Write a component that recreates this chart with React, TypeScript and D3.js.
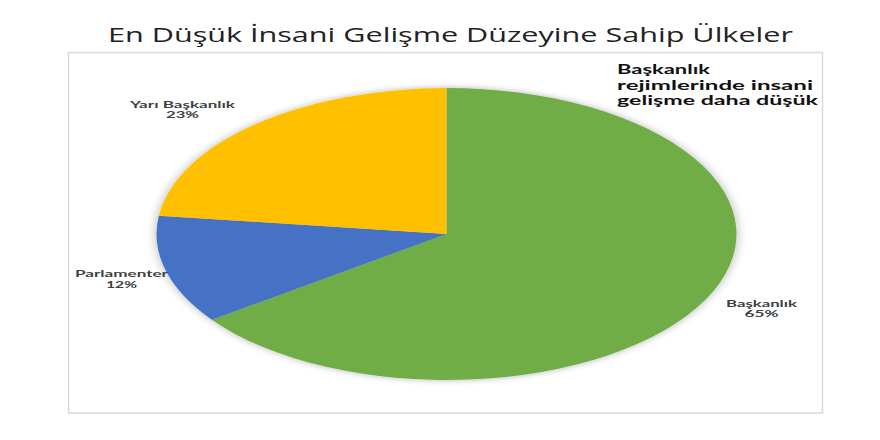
import React from "react";
import * as d3 from "d3";

const categories = ["Başkanlık", "Parlamenter", "Yarı Başkanlık"];
const values = [65, 12, 23];
const percentLabels = ["65%", "12%", "23%"];
const colors = ["#70AD47", "#4472C4", "#FFC000"];
const titleText = "En Düşük İnsani Gelişme Düzeyine Sahip Ülkeler";
const noteLines = ["Başkanlık", "rejimlerinde insani", "gelişme daha düşük"];

const W = 880;
const H = 440;
const cx = 446.5;
const cy = 234;
const rx = 290;
const ry = 146;

// label anchors: [centre x, baseline of first line]
const labelPos: [number, number][] = [
  [761.5, 306.7],
  [121.5, 277],
  [182.5, 107.5],
];
const nameWidths = [71, 93, 105];
const pctWidths = [34, 31, 33];
const noteWidths = [93, 196, 201];

export default function App() {
  const pie = d3
    .pie<number>()
    .sort(null)
    .startAngle(0)
    .endAngle(2 * Math.PI)(values);
  const arc = d3.arc<d3.PieArcDatum<number>>().innerRadius(0).outerRadius(ry);

  return (
    <svg
      width={W}
      height={H}
      style={{ position: "absolute", left: 0, top: 0, background: "#fff" }}
      fontFamily="'Open Sans', 'DejaVu Sans', sans-serif"
    >
      <defs>
        <filter id="sh" x="-10%" y="-10%" width="120%" height="120%">
          <feGaussianBlur in="SourceAlpha" stdDeviation="3" />
          <feComponentTransfer>
            <feFuncA type="linear" slope="0.3" />
          </feComponentTransfer>
          <feMerge>
            <feMergeNode />
            <feMergeNode in="SourceGraphic" />
          </feMerge>
        </filter>
      </defs>
      <text
        x={450.5}
        y={42}
        textAnchor="middle"
        fontSize={20}
        fill="#222"
        textLength={685}
        lengthAdjust="spacingAndGlyphs"
      >
        {titleText}
      </text>
      <rect x={68.5} y={52.5} width={754} height={360.5} fill="#fff" stroke="#d9d9d9" strokeWidth={1.5} />
      <g transform={`translate(${cx},${cy}) scale(${rx / ry},1)`} filter="url(#sh)">
        {pie.map((d, i) => (
          <path key={categories[i]} d={arc(d) || ""} fill={colors[i]} />
        ))}
      </g>
      {categories.map((c, i) => (
        <g key={c} fontFamily="Lato, 'Open Sans', sans-serif" fontSize={8.5} fontWeight="bold" fill="#404040">
          <text
            x={labelPos[i][0]}
            y={labelPos[i][1]}
            textAnchor="middle"
            textLength={nameWidths[i]}
            lengthAdjust="spacingAndGlyphs"
          >
            {c}
          </text>
          <text
            x={labelPos[i][0]}
            y={labelPos[i][1] + 10.5}
            textAnchor="middle"
            textLength={pctWidths[i]}
            lengthAdjust="spacingAndGlyphs"
          >
            {percentLabels[i]}
          </text>
        </g>
      ))}
      <g fontFamily="Lato, 'Open Sans', sans-serif" fontSize={12.8} fontWeight="bold" fill="#111">
        {noteLines.map((l, i) => (
          <text
            key={i}
            x={617}
            y={74 + i * 15.5}
            textLength={noteWidths[i]}
            lengthAdjust="spacingAndGlyphs"
          >
            {l}
          </text>
        ))}
      </g>
    </svg>
  );
}
